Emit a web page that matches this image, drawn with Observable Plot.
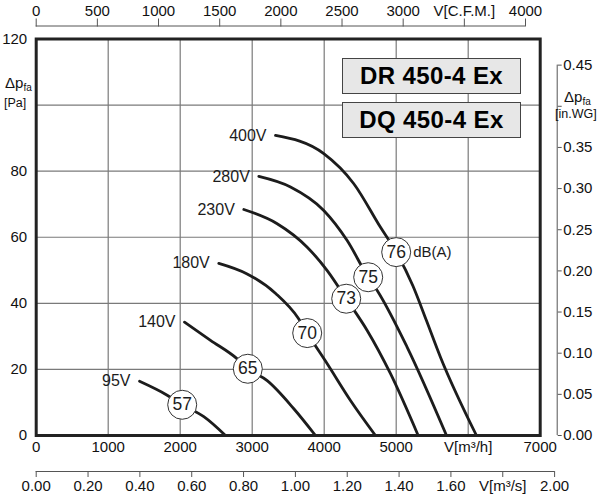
<!DOCTYPE html>
<html><head><meta charset="utf-8">
<script src="https://cdn.jsdelivr.net/npm/d3@7"></script>
<script src="https://cdn.jsdelivr.net/npm/@observablehq/plot@0.6"></script>
<style>
body{margin:0;background:#fff;font-family:"Liberation Sans",Arial,sans-serif;color:#111;}
#wrap{position:relative;width:600px;height:500px;}
.box{position:absolute;left:342px;width:179px;background:#e7e7e7;border:1.5px solid #444;box-sizing:border-box;font-weight:bold;font-size:24px;letter-spacing:0.4px;display:flex;align-items:center;justify-content:center;color:#000;}
.ulab{position:absolute;font-size:15px;line-height:1;white-space:nowrap;}
.ulab sub{font-size:10px;vertical-align:-3px;}
.small{font-size:12.5px;}
</style></head><body><div id="wrap"></div>
<script>
// ---- tick values ----
const flowTicks = [0,1000,2000,3000,4000,5000,6000,7000];      // m3/h
const paTicks = [0,20,40,60,80,100,120];                        // Pa
const cfmTicks = [0,500,1000,1500,2000,2500,3000,3500,4000];   // C.F.M.
const m3sTicks = [0,0.2,0.4,0.6,0.8,1.0,1.2,1.4,1.6,1.8,2.0];  // m3/s
const inwgTicks = [0,0.05,0.1,0.15,0.2,0.25,0.3,0.35,0.4,0.45]; // in.WG
const CFM_TO_M3H = 1.699, M3S_TO_M3H = 3600, INWG_TO_PA = 249.09;

// ---- curves (flow m3/h, pressure Pa) ----
const voltages = ["95V","140V","180V","230V","280V","400V"];
const q95V  = [1435,1819,2028,2328,2629];
const p95V  = [16.4,12.2,9.3,5.7,0];
const q140V = [2060,2421,2792,2939,3208,3578,3879];
const p140V = [34.3,28.8,23.2,20.2,16.6,8.1,0];
const q180V = [2536,2930,3330,3640,3764,4042,4365,4712];
const p180V = [52.1,48.9,42.9,35.5,31.0,21.7,10.6,0];
const q230V = [2884,3347,3764,4042,4306,4597,4921,5305];
const p230V = [68.4,64.1,57.0,49.9,41.4,31.8,18.7,0];
const q280V = [3092,3532,3994,4319,4611,4736,5153,5699];
const p280V = [78.4,75.2,68.1,59.0,47.9,43.9,26.7,0];
const q400V = [3324,3994,4411,4782,5000,5230,5420,5615,6115];
const p400V = [90.8,85.3,76.2,63.0,55.5,45.4,34.8,23.7,0];

// ---- noise markers dB(A) ----
const dbLabels = ["57","65","70","73","75","76"];
const dbFlow = [2028,2939,3764,4306,4611,5000];
const dbPress = [9.3,20.2,31.0,41.4,47.9,55.5];

const models = ["DR 450-4 Ex","DQ 450-4 Ex"];

const flows = [q95V,q140V,q180V,q230V,q280V,q400V];
const press = [p95V,p140V,p180V,p230V,p280V,p400V];
const series = voltages.map((v,k)=>({v, q:flows[k], p:press[k]}));
const rows = series.flatMap(s=>s.q.map((q,i)=>({v:s.v, q, p:s.p[i]})));
const dbRows = dbLabels.map((t,i)=>({t, q:dbFlow[i], p:dbPress[i]}));

const near = (a,b)=>Math.abs(a-b)<1e-6;
const ink = "#1c1c1c";

const chart = Plot.plot({
  width:600, height:500,
  marginTop:38.5, marginBottom:65, marginLeft:35.7, marginRight:60.3,
  x:{domain:[flowTicks[0], flowTicks[flowTicks.length-1]]},
  y:{domain:[paTicks[0], paTicks[paTicks.length-1]]},
  style:{fontFamily:"'Liberation Sans', Arial, sans-serif", fontSize:"15px", color:"#111", background:"white", overflow:"visible"},
  marks:[
    Plot.gridX(flowTicks.slice(1,-1), {stroke:"#7a7a7a", strokeOpacity:1, strokeWidth:1.2}),
    Plot.gridY(paTicks.slice(1,-1), {stroke:"#7a7a7a", strokeOpacity:1, strokeWidth:1.2}),
    // bottom m3/h
    Plot.axisX(flowTicks, {anchor:"bottom", tickSize:0, tickPadding:6, label:null,
      tickFormat:d=> near(d,6000) ? "V[m³/h]" : String(d)}),
    // bottom m3/s
    Plot.ruleY([paTicks[0]], {x1:m3sTicks[0]*M3S_TO_M3H, x2:m3sTicks[m3sTicks.length-1]*M3S_TO_M3H, dy:36, stroke:"#555", strokeWidth:1}),
    Plot.axisX(m3sTicks.map(v=>v*M3S_TO_M3H), {anchor:"bottom", dy:36, tickSize:6, tickPadding:3, label:null, stroke:"#555",
      tickFormat:d=> near(d/M3S_TO_M3H,1.8) ? "V[m³/s]" : (d/M3S_TO_M3H).toFixed(2)}),
    // top CFM
    Plot.ruleY([paTicks[paTicks.length-1]], {x1:cfmTicks[0]*CFM_TO_M3H, x2:cfmTicks[cfmTicks.length-1]*CFM_TO_M3H, dy:-13, stroke:"#555", strokeWidth:1}),
    Plot.axisX(cfmTicks.map(v=>v*CFM_TO_M3H), {anchor:"top", dy:-13, tickSize:8, tickPadding:2, label:null, stroke:"#555",
      tickFormat:d=> near(d/CFM_TO_M3H,3500) ? "V[C.F.M.]" : String(Math.round(d/CFM_TO_M3H))}),
    // left Pa (100 replaced by unit label)
    Plot.axisY(paTicks, {anchor:"left", tickSize:0, tickPadding:9, label:null,
      tickFormat:d=> near(d,100) ? "" : String(d)}),
    // right in.WG
    Plot.ruleX([flowTicks[flowTicks.length-1]], {y1:inwgTicks[0]*INWG_TO_PA, y2:inwgTicks[inwgTicks.length-1]*INWG_TO_PA, dx:17, stroke:"#555", strokeWidth:1}),
    Plot.axisY(inwgTicks.map(v=>v*INWG_TO_PA), {anchor:"right", dx:17, tickSize:4, tickPadding:2, label:null, stroke:"#555",
      tickFormat:d=> near(d/INWG_TO_PA,0.4) ? "" : (d/INWG_TO_PA).toFixed(2)}),
    // curves
    Plot.line(rows, {x:"q", y:"p", z:"v", stroke:ink, strokeWidth:2.8, curve:"monotone-x"}),
    Plot.text(series, {x:s=>s.q[0], y:s=>s.p[0], text:"v", textAnchor:"end", dx:-9, fontSize:16, fill:ink}),
    Plot.dot(dbRows, {x:"q", y:"p", r:14.5, fill:"white", stroke:"#333", strokeWidth:1}),
    Plot.text(dbRows, {x:"q", y:"p", text:"t", fontSize:17.5, fill:ink}),
    Plot.text(dbRows.slice(-1), {x:"q", y:"p", text:()=>"dB(A)", textAnchor:"start", dx:17, fontSize:15, fill:ink}),
    Plot.frame({stroke:"#222", strokeWidth:3})
  ]
});
const wrap = document.getElementById("wrap");
wrap.appendChild(chart);

function add(html, cls, style){
  const d = document.createElement("div");
  d.className = cls; d.innerHTML = html; Object.assign(d.style, style); wrap.appendChild(d);
}
add(models[0], "box", {top:"58px", height:"36px"});
add(models[1], "box", {top:"102px", height:"36px"});
add("Δp<sub>fa</sub>", "ulab", {left:"5px", top:"75px"});
add("[Pa]", "ulab small", {left:"4px", top:"97px"});
add("Δp<sub>fa</sub>", "ulab", {left:"564px", top:"89px"});
add("[in.WG]", "ulab small", {left:"555px", top:"108px"});
</script>
</body></html>
